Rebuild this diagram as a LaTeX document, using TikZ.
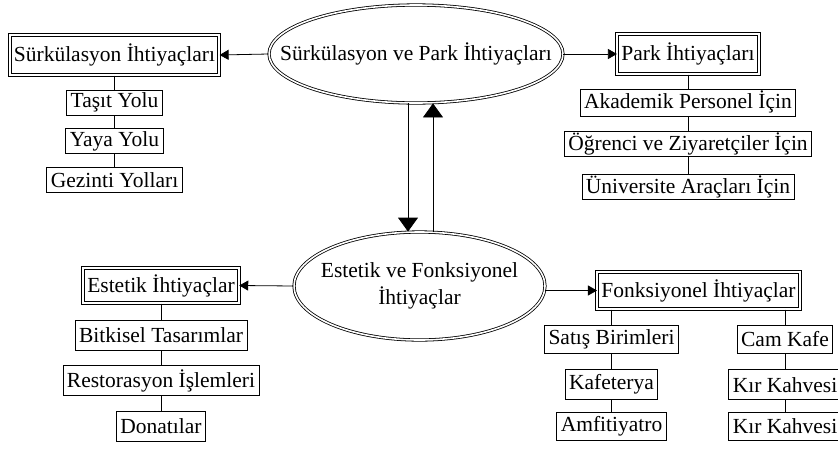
\documentclass[tikz,border=0pt]{standalone}
\usepackage{fontspec}
\setmainfont{Liberation Serif}
\usetikzlibrary{arrows.meta,positioning,shapes.geometric}

\begin{document}
\begin{tikzpicture}[x=1pt,y=1pt,line width=0.8pt,node distance=15pt,
  font=\rmfamily\fontsize{21.5}{27}\selectfont]

% Define block styles
\tikzstyle{hub} = [ellipse, draw, double, double distance=1.6pt, inner sep=0pt]
\tikzstyle{group} = [rectangle, draw, line width=1pt, double, double distance=2pt,
    inner xsep=4pt, inner ysep=0pt, minimum height=40pt]
\tikzstyle{leaf} = [rectangle, draw, inner xsep=4pt, inner ysep=0pt, minimum height=25pt]
\tikzstyle{lowleaf} = [leaf, minimum height=30pt]
\tikzstyle{line} = [draw, -{Triangle[length=9pt,width=10pt]}]
\tikzstyle{bigline} = [draw, -{Triangle[length=14pt,width=20pt]}]
\tikzstyle{link} = [draw]

\useasboundingbox (0,0) rectangle (838,-450);

\node[hub, minimum width=294pt, minimum height=98pt]	(needs)	at (416,-54)
	{\makebox[0pt]{Sürkülasyon ve Park İhtiyaçları}};
\node[hub, minimum width=251pt, minimum height=108pt, align=center]	(aesth)	at (419.5,-286)
	{\makebox[0pt]{Estetik ve Fonksiyonel}\\\makebox[0pt]{İhtiyaçlar}};

\node[group]	(surk)	at (114.5,-55)		{Sürkülasyon İhtiyaçları};
\node[leaf]	(tasit)	[below=14pt of surk]	{Taşıt Yolu};
\node[leaf]	(yaya)	[below=13pt of tasit]	{Yaya Yolu};
\node[leaf]	(gezinti)	[below=13pt of yaya]	{Gezinti Yolları};

\node[group]	(park)	at (688,-54)		{Park İhtiyaçları};
\node[leaf, minimum height=27pt]	(akademik)	[below=14pt of park]	{Akademik Personel İçin};
\node[leaf]	(ogrenci)	[below=of akademik]	{Öğrenci ve Ziyaretçiler İçin};
\node[leaf]	(arac)	[below=17pt of ogrenci]	{Üniversite Araçları İçin};

\node[group, minimum height=35pt]	(estetik)	at (161,-285.5)	{Estetik İhtiyaçlar};
\node[lowleaf]	(bitkisel)	[below=16pt of estetik]	{Bitkisel Tasarımlar};
\node[lowleaf]	(restor)	[below=of bitkisel]	{Restorasyon İşlemleri};
\node[lowleaf]	(donati)	[below=of restor]	{Donatılar};

\node[group, minimum height=37pt]	(fonk)	at (698.5,-290.5)	{Fonksiyonel İhtiyaçlar};
\node[lowleaf, minimum height=28pt]	(satis)	[below=of fonk.south, xshift=-87pt]	{Satış Birimleri};
\node[lowleaf]	(kafeterya)	[below=16pt of satis]	{Kafeterya};
\node[lowleaf, minimum height=28pt]	(amfi)	[below=12pt of kafeterya]	{Amfitiyatro};
\node[lowleaf, minimum height=28pt]	(camkafe)	[below=of fonk.south, xshift=86.5pt]	{Cam Kafe};
\node[lowleaf]	(kir1)	[below=16pt of camkafe]	{Kır Kahvesi};
\node[lowleaf, minimum height=28pt]	(kir2)	[below=12pt of kir1]	{Kır Kahvesi};

\path[line] (needs.west) -- (surk.east);
\path[line] (needs.east) -- (park.west);
\path[line] (aesth.west) -- (estetik.east);
\path[line] (aesth.east |- fonk.west) -- (fonk.west);
\path[bigline] ([xshift=-8pt]needs.south) -- ([xshift=-8pt]needs.south |- aesth.north);
\path[bigline] ([xshift=13.5pt]aesth.north) -- ([xshift=13.5pt]aesth.north |- needs.south);

\path[link]
	(surk) -- (tasit) -- (yaya) -- (gezinti)
	(park) -- (akademik) -- (ogrenci) -- (arac)
	(estetik) -- (bitkisel) -- (restor) -- (donati)
	(fonk.south -| satis.north) -- (satis) -- (kafeterya) -- (amfi)
	(fonk.south -| camkafe.north) -- (camkafe) -- (kir1) -- (kir2);

\end{tikzpicture}
\end{document}
